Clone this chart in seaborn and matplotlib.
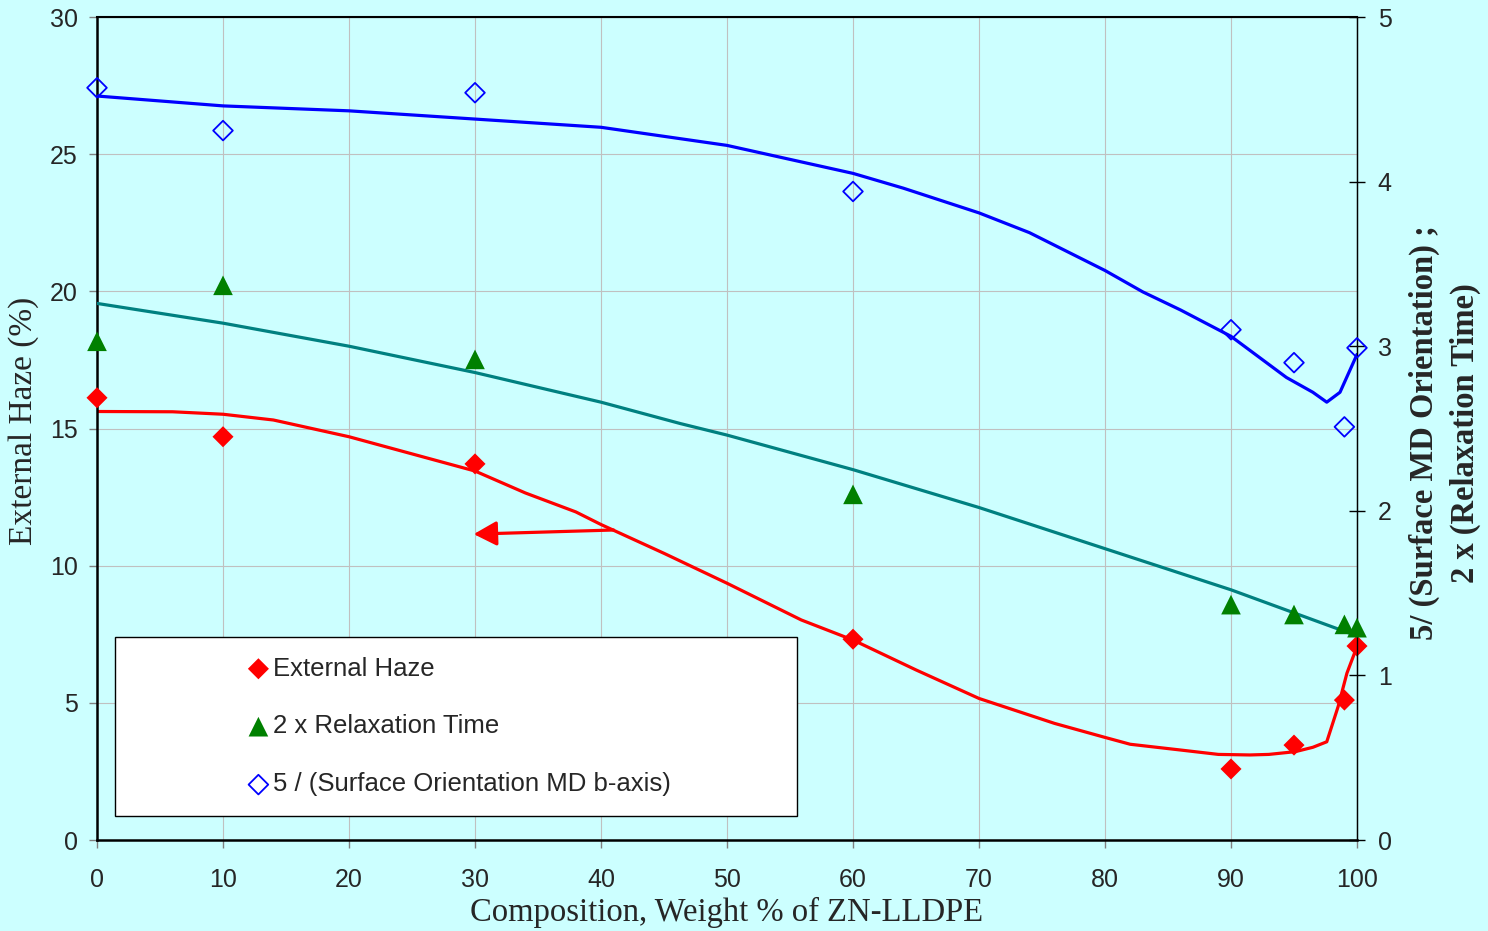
import matplotlib
matplotlib.use('Agg')
import matplotlib.pyplot as plt
from matplotlib.patches import Rectangle
import seaborn as sns

# measured points
comp = [0, 10, 30, 60, 90, 95, 99, 100]
haze = [16.12, 14.70, 13.71, 7.32, 2.59, 3.46, 5.10, 7.07]
relax2 = [3.03, 3.37, 2.92, 2.10, 1.43, 1.37, 1.31, 1.29]
orient5 = [4.57, 4.31, 4.54, 3.94, 3.10, 2.90, 2.51, 2.99]

# trend lines
haze_fit_x = [0, 6, 10, 14, 20, 26.8, 30, 34, 38, 40, 45, 50, 55.9, 60, 65, 70, 76,
              80, 82, 86, 89, 91.5, 93, 95.1, 96.5, 97.6, 98.5, 99.2, 100]
haze_fit_y = [15.62, 15.61, 15.52, 15.31, 14.70, 13.85, 13.45, 12.65, 11.96, 11.5,
              10.45, 9.36, 8.02, 7.29, 6.20, 5.16, 4.25, 3.74, 3.49, 3.28, 3.12,
              3.10, 3.12, 3.22, 3.38, 3.58, 4.86, 6.08, 7.05]

relax_fit_x = [0, 10, 20, 30, 40, 46.3, 50, 60, 70, 80, 90, 95, 100]
relax_fit_y = [3.26, 3.14, 3.00, 2.84, 2.66, 2.53, 2.46, 2.25, 2.02, 1.77, 1.52, 1.38, 1.24]

orient_fit_x = [0, 10, 20, 30, 40, 50, 60, 64, 70, 74, 80, 83, 86, 90, 94.4, 96.5,
                97.6, 98.65, 100]
orient_fit_y = [4.52, 4.46, 4.43, 4.38, 4.33, 4.22, 4.05, 3.96, 3.81, 3.69, 3.46,
                3.33, 3.22, 3.06, 2.81, 2.72, 2.66, 2.72, 2.95]

bg = '#CCFFFF'

sns.set_style('ticks')
plt.rcParams['font.family'] = ['Liberation Sans', 'DejaVu Sans']

fig = plt.figure(figsize=(14.88, 9.31), dpi=100, facecolor=bg)
ax1 = fig.add_axes([0.06519, 0.09774, 0.84677, 0.88399])
ax1.set_facecolor(bg)
ax2 = ax1.twinx()
ax2.patch.set_visible(False)

sns.lineplot(x=haze_fit_x, y=haze_fit_y, color='red', lw=2.3, ax=ax1)
sns.scatterplot(x=comp, y=haze, marker='D', s=115, color='red', edgecolor='none',
                ax=ax1, clip_on=False, zorder=5, label='External Haze')

sns.lineplot(x=relax_fit_x, y=relax_fit_y, color='#008080', lw=2.3, ax=ax2)
sns.lineplot(x=orient_fit_x, y=orient_fit_y, color='blue', lw=2.3, ax=ax2)
sns.scatterplot(x=comp, y=relax2, marker='^', s=200, color='green', edgecolor='none',
                ax=ax2, clip_on=False, zorder=5, label='2 x Relaxation Time')
sns.scatterplot(x=comp, y=orient5, marker='D', s=100, facecolor='none', edgecolor='blue',
                linewidth=1.3, ax=ax2, clip_on=False, zorder=5,
                label='5 / (Surface Orientation MD b-axis)')

ax1.annotate('', xy=(29.9, 11.15), xytext=(41.0, 11.3),
             arrowprops=dict(arrowstyle='-|>,head_length=1.4,head_width=0.75',
                             color='red', lw=2.3, shrinkA=0, shrinkB=0,
                             mutation_scale=10))

ax1.set_xlim(0, 100)
ax1.set_ylim(0, 30)
ax2.set_ylim(0, 5)
ax1.set_xticks(range(0, 101, 10))
ax1.set_yticks(range(0, 31, 5))
ax2.set_yticks(range(0, 6))
ax1.set_xlabel('')
ax1.set_ylabel('')
ax2.set_ylabel('')

ax1.grid(True, color='#C0C0C0', lw=0.8)
ax1.set_axisbelow(True)

ax1.tick_params(axis='both', labelsize=18, direction='out', length=6,
                color='#808080', width=1)
ax1.tick_params(axis='x', pad=14)
ax1.tick_params(axis='y', pad=8)
ax2.tick_params(axis='y', labelsize=18, direction='inout', length=12,
                color='black', width=1, pad=9)

for s in ['left', 'bottom']:
    ax1.spines[s].set_linewidth(1.8)
    ax1.spines[s].set_color('black')
ax2.spines['top'].set_linewidth(1.5)
ax2.spines['right'].set_linewidth(1.0)
for s in ['left', 'bottom', 'top', 'right']:
    ax2.spines[s].set_color('black')
ax2.spines['left'].set_visible(False)
ax2.spines['bottom'].set_visible(False)

# legend box
if ax1.get_legend():
    ax1.get_legend().remove()
h1, l1 = ax1.get_legend_handles_labels()
h2, l2 = ax2.get_legend_handles_labels()
box = Rectangle((0.0143, 0.029), 0.5413, 0.218, transform=ax2.transAxes,
                facecolor='white', edgecolor='black', lw=1.0, zorder=6)
ax2.add_patch(box)
leg = ax2.legend(h1 + h2, l1 + l2, loc='center', bbox_to_anchor=(0.2865, 0.138),
                 frameon=False, fontsize=18.5, labelspacing=1.32, handletextpad=0.05,
                 handlelength=1.0, scatterpoints=1)
leg.set_zorder(7)

fig.text(24 / 1488, 1 - 421 / 931, 'External Haze (%)', rotation=90,
         ha='center', va='center', fontsize=24, family='Liberation Serif')
fig.text(727 / 1488, 1 - 912 / 931, 'Composition, Weight % of ZN-LLDPE',
         ha='center', va='center', fontsize=23.5, family='Liberation Serif')
fig.text(1445 / 1488, 1 - 433 / 931,
         '5/ (Surface MD Orientation) ;\n2 x (Relaxation Time)', rotation=90,
         ha='center', va='center', multialignment='center', fontsize=23.5,
         fontweight='bold', family='Liberation Serif', linespacing=1.38)

fig.savefig('out.png', dpi=100, facecolor=bg)
